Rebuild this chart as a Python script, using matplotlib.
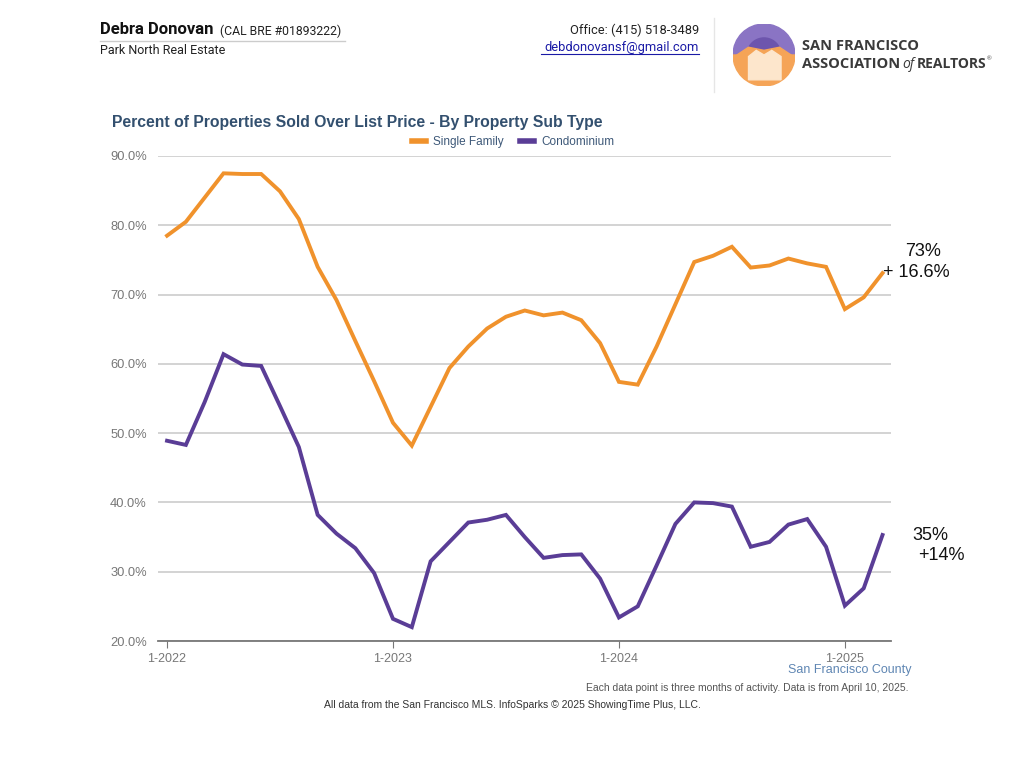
import matplotlib
matplotlib.use("Agg")
import matplotlib.pyplot as plt
from matplotlib.patches import Wedge, Polygon
from matplotlib.lines import Line2D

plt.rcParams['font.family'] = ['Liberation Sans', 'DejaVu Sans']

# monthly points, 1-2022 .. 3-2025 (each = rolling 3 months)
months = list(range(39))
single_family = [78.5, 80.5, 84.0, 87.5, 87.4, 87.4, 84.9, 80.9, 74.0, 69.2,
                 63.3, 57.5, 51.5, 48.2, 53.8, 59.4, 62.5, 65.1, 66.8, 67.7,
                 67.0, 67.4, 66.3, 63.0, 57.4, 57.0, 62.5, 68.6, 74.7, 75.6,
                 76.9, 73.9, 74.2, 75.2, 74.5, 74.0, 67.9, 69.6, 73.1]
condominium = [48.9, 48.3, 54.5, 61.4, 59.9, 59.7, 53.9, 48.0, 38.2, 35.5,
               33.4, 29.8, 23.2, 22.0, 31.5, 34.3, 37.1, 37.5, 38.2, 35.0,
               32.0, 32.4, 32.5, 29.0, 23.4, 25.0, 30.9, 36.9, 40.0, 39.9,
               39.4, 33.6, 34.3, 36.8, 37.6, 33.6, 25.1, 27.6, 35.3]
year_ticks = [0, 12, 24, 36]
year_labels = ["1-2022", "1-2023", "1-2024", "1-2025"]
y_ticks = [20, 30, 40, 50, 60, 70, 80, 90]

ORANGE = "#F0922C"
PURPLE = "#5A3D96"
W, H = 1024, 768
HDR = ["Roboto", "DejaVu Sans"]
LOGO = ["Open Sans", "DejaVu Sans"]


def fx(px):
    return px / W


def fy(py):
    return 1 - py / H


fig = plt.figure(figsize=(10.24, 7.68), dpi=100)
fig.patch.set_facecolor("white")

# ---- header ----
fig.text(fx(100), fy(30), "Debra Donovan", fontsize=12, fontweight="bold",
         color="#111111", va="center", ha="left", family=HDR)
fig.text(fx(220), fy(31), "(CAL BRE #01893222)", fontsize=8.8, color="#222222",
         va="center", ha="left", family=HDR)
fig.add_artist(Line2D([fx(100), fx(345)], [fy(41), fy(41)], color="#cccccc", lw=1))
fig.text(fx(100), fy(50), "Park North Real Estate", fontsize=9, color="#222222",
         va="center", ha="left", family=HDR)
fig.text(fx(699), fy(30), "Office: (415) 518-3489", fontsize=9.3, color="#222222",
         va="center", ha="right", family=HDR)
fig.text(fx(699), fy(47), "debdonovansf@gmail.com", fontsize=9.3, color="#1a1aa6",
         va="center", ha="right", family=HDR)
fig.add_artist(Line2D([fx(541), fx(699)], [fy(54), fy(54)], color="#1a1aa6", lw=0.8))
fig.add_artist(Line2D([fx(714), fx(714)], [fy(18), fy(92)], color="#e6e6e6", lw=1))

# logo
lax = fig.add_axes([fx(733), fy(86), 62 / W, 62 / H])
lax.set_xlim(-1, 1)
lax.set_ylim(-1, 1)
lax.set_aspect("equal")
lax.axis("off")
lax.add_patch(Wedge((0, 0), 1, 0, 180, color="#8a74c4"))
lax.add_patch(Wedge((0, 0), 0.55, 20, 160, color="#6d55ad"))
lax.add_patch(Wedge((0, 0), 1, 180, 360, color="#f5a457"))
lax.add_patch(Polygon([[-0.95, -0.05], [-0.5, 0.25], [0.0, 0.15], [0.5, 0.25],
                       [0.95, -0.05], [0.95, -0.1], [-0.95, -0.1]], color="#f5a457"))
lax.add_patch(Polygon([[-0.5, -0.8], [-0.5, -0.05], [-0.25, 0.15], [0.0, 0.0],
                       [0.25, 0.15], [0.55, -0.05], [0.55, -0.8]], color="#fde6cc"))
fig.text(fx(802), fy(46), "SAN FRANCISCO", fontsize=10.5, fontweight="bold",
         color="#3a3a3a", va="center", ha="left", family=LOGO)
fig.text(fx(802), fy(64), "ASSOCIATION", fontsize=10.5, fontweight="bold",
         color="#3a3a3a", va="center", ha="left", family=LOGO)
fig.text(fx(902), fy(65), "of", fontsize=10, style="italic",
         color="#3a3a3a", va="center", ha="left", family=LOGO)
fig.text(fx(917), fy(64), "REALTORS", fontsize=10, fontweight="bold",
         color="#3a3a3a", va="center", ha="left", family=LOGO)
fig.text(fx(987), fy(59), "\u00ae", fontsize=4.5, color="#3a3a3a", va="center", ha="left")

# ---- chart ----
ax = fig.add_axes([fx(158), fy(641), (891 - 158) / W, (641 - 156) / H])
ax.plot(months, single_family, color=ORANGE, lw=2.8, solid_joinstyle="miter")
ax.plot(months, condominium, color=PURPLE, lw=2.8, solid_joinstyle="miter")
ax.set_xlim(-0.48, 38.45)
ax.set_ylim(20, 90)
ax.set_yticks(y_ticks)
ax.set_yticklabels([f"{v:.1f}%" for v in y_ticks])
ax.set_xticks(year_ticks)
ax.set_xticklabels(year_labels)
ax.grid(axis="y", color="#cccccc", lw=1.2)
ax.set_axisbelow(True)
for s in ["top", "right", "left"]:
    ax.spines[s].set_visible(False)
ax.spines["bottom"].set_color("#777777")
ax.spines["bottom"].set_linewidth(1.3)
ax.tick_params(axis="y", length=0, pad=8, labelsize=9.3, labelcolor="#777777")
ax.tick_params(axis="x", length=5, color="#777777", pad=4, labelsize=9,
               labelcolor="#777777")

fig.text(fx(112), fy(123), "Percent of Properties Sold Over List Price - By Property Sub Type",
         fontsize=11.3, fontweight="bold", color="#33506f", va="center", ha="left")

# legend
leg_handles = [Line2D([], [], color=ORANGE, lw=4), Line2D([], [], color=PURPLE, lw=4)]
fig.legend(leg_handles, ["Single Family", "Condominium"], loc="center",
           bbox_to_anchor=(fx(513), fy(142)), ncol=2, frameon=False, fontsize=8.5,
           handlelength=1.2, handletextpad=0.6, columnspacing=1.4, labelcolor="#3d5878")

# annotations
fig.text(fx(923), fy(252), "73%", fontsize=13, color="#111111", va="center", ha="center")
fig.text(fx(883), fy(272), "+ 16.6%", fontsize=13, color="#111111", va="center", ha="left")
fig.text(fx(930), fy(536), "35%", fontsize=13, color="#111111", va="center", ha="center")
fig.text(fx(918), fy(556), "+14%", fontsize=13, color="#111111", va="center", ha="left")

# footer
fig.text(fx(912), fy(670), "San Francisco County", fontsize=9, color="#5f86b3",
         va="center", ha="right")
fig.text(fx(909), fy(688), "Each data point is three months of activity. Data is from April 10, 2025.",
         fontsize=7.5, color="#555555", va="center", ha="right")
fig.text(fx(512), fy(705), "All data from the San Francisco MLS. InfoSparks \u00a9 2025 ShowingTime Plus, LLC.",
         fontsize=7.5, color="#333333", va="center", ha="center")

fig.savefig("out.png", dpi=100)
